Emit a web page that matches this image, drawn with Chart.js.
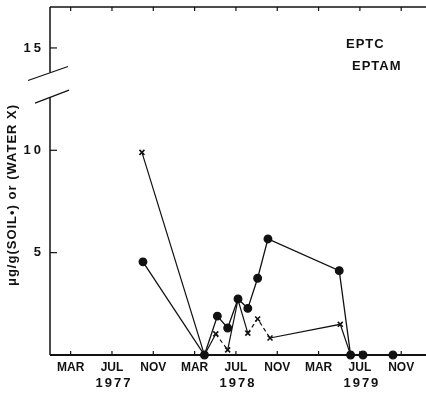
<!DOCTYPE html>
<html>
<head>
<meta charset="utf-8">
<script src="https://cdn.jsdelivr.net/npm/chart.js@4.4.1/dist/chart.umd.min.js"></script>
<style>
  body { margin: 0; background: #fff; }
  #wrap { width: 426px; height: 396px; }
</style>
</head>
<body>
<div id="wrap"><canvas id="residueChart" width="426" height="396"></canvas></div>
<script>
// months counted from Jan 1977 (0 = Jan 1977)
const tickMonths = [2, 6, 10, 14, 18, 22, 26, 30, 34];
const tickNames = ["MAR", "JUL", "NOV", "MAR", "JUL", "NOV", "MAR", "JUL", "NOV"];
const yearMonths = [6, 18, 30];
const yearNames = ["1977", "1978", "1979"];
const yTicks = [5, 10, 15];

// soil residues (filled dots)
const soilMonths = [9.0, 14.95, 16.2, 17.2, 18.2, 19.15, 20.1, 21.1, 28.0, 29.1, 30.3, 33.2];
const soilValues = [4.55, 0, 1.9, 1.32, 2.74, 2.28, 3.75, 5.67, 4.12, 0, 0, 0];

// water residues (x marks)
const waterMonths = [8.9, 14.95, 16.05, 17.2, 18.2, 19.15, 20.1, 21.3, 28.1, 29.1, 30.3, 33.2];
const waterValues = [9.9, 0, 1.03, 0.25, 2.7, 1.07, 1.76, 0.83, 1.5, 0, 0, 0];
const waterDashed = [2, 5, 6];

const FONT = "'Liberation Sans', Arial, sans-serif";

const toPoints = (xs, ys) => xs.map((x, i) => ({ x, y: ys[i] }));

// frame, inward ticks, broken y axis and text labels
const framePlugin = {
  id: "frame",
  afterDatasetsDraw(chart) {
    const { ctx, chartArea: a, scales: { x, y } } = chart;
    ctx.save();
    ctx.strokeStyle = "#111";
    ctx.lineCap = "butt";

    // bottom and top axis lines
    ctx.lineWidth = 2;
    ctx.beginPath();
    ctx.moveTo(a.left, a.bottom); ctx.lineTo(a.right, a.bottom);
    ctx.stroke();
    ctx.lineWidth = 1.5;
    ctx.beginPath();
    ctx.moveTo(a.left, a.top); ctx.lineTo(a.right, a.top);
    ctx.stroke();

    // left axis with a break between 12.6 and 13.8
    const breakLo = y.getPixelForValue(12.6);
    const breakHi = y.getPixelForValue(13.8);
    ctx.beginPath();
    ctx.moveTo(a.left, a.bottom); ctx.lineTo(a.left, breakLo);
    ctx.moveTo(a.left, breakHi); ctx.lineTo(a.left, a.top);
    ctx.stroke();

    // break marks
    ctx.lineWidth = 1.2;
    ctx.beginPath();
    ctx.moveTo(a.left - 22, breakHi + 8); ctx.lineTo(a.left + 18, breakHi - 6);
    ctx.moveTo(a.left - 15, breakLo + 6); ctx.lineTo(a.left + 19, breakLo - 7);
    ctx.stroke();

    // x ticks, bottom pointing up and top pointing down
    ctx.lineWidth = 1.2;
    tickMonths.forEach(m => {
      const px = x.getPixelForValue(m);
      ctx.beginPath();
      ctx.moveTo(px, a.bottom); ctx.lineTo(px, a.bottom - 4);
      ctx.moveTo(px, a.top); ctx.lineTo(px, a.top + 4);
      ctx.stroke();
    });

    // y ticks and labels
    ctx.fillStyle = "#111";
    ctx.font = "bold 13px " + FONT;
    ctx.textAlign = "right";
    ctx.textBaseline = "middle";
    ctx.letterSpacing = "3px";
    yTicks.forEach(v => {
      const py = y.getPixelForValue(v);
      ctx.beginPath();
      ctx.moveTo(a.left, py); ctx.lineTo(a.left + 7, py);
      ctx.stroke();
      ctx.fillText(String(v), a.left - 6, py);
    });

    // year labels under JUL
    ctx.textAlign = "center";
    ctx.textBaseline = "top";
    ctx.letterSpacing = "2px";
    ctx.font = "bold 13px " + FONT;
    yearMonths.forEach((m, i) => {
      ctx.fillText(yearNames[i], x.getPixelForValue(m) + 2, a.bottom + 22);
    });

    // compound names
    ctx.textAlign = "left";
    ctx.letterSpacing = "1px";
    ctx.fillText("EPTC", 346, 38);
    ctx.fillText("EPTAM", 352, 60);

    // y axis title
    ctx.translate(12, 195);
    ctx.rotate(-Math.PI / 2);
    ctx.textAlign = "center";
    ctx.textBaseline = "middle";
    ctx.letterSpacing = "1px";
    ctx.font = "bold 13px " + FONT;
    ctx.fillText("\u03bcg/g(SOIL\u2022) or (WATER X)", 0, 0);
    ctx.restore();
  }
};

new Chart(document.getElementById("residueChart"), {
  type: "scatter",
  data: {
    datasets: [
      {
        label: "soil",
        data: toPoints(soilMonths, soilValues),
        showLine: true,
        borderColor: "#111",
        borderWidth: 1.3,
        pointStyle: "circle",
        pointRadius: 3.8,
        pointBackgroundColor: "#111",
        pointBorderColor: "#111",
        clip: false
      },
      {
        label: "water",
        data: toPoints(waterMonths, waterValues),
        showLine: true,
        borderColor: "#111",
        borderWidth: 1.2,
        pointStyle: "crossRot",
        pointRadius: 3.5,
        pointBorderWidth: 1.6,
        pointBorderColor: "#111",
        clip: false,
        segment: {
          borderDash: c => waterDashed.includes(c.p0DataIndex) ? [4, 3] : undefined
        }
      }
    ]
  },
  options: {
    responsive: false,
    animation: false,
    devicePixelRatio: 1,
    layout: { autoPadding: false, padding: { top: 7, right: 0, left: 0, bottom: 0 } },
    plugins: { legend: { display: false }, tooltip: { enabled: false } },
    scales: {
      x: {
        type: "linear",
        min: 0,
        max: 36.4,
        afterFit: s => { s.height = 41; s.paddingLeft = 0; s.paddingRight = 0; },
        afterBuildTicks: s => { s.ticks = tickMonths.map(v => ({ value: v })); },
        grid: { display: false, drawTicks: false },
        border: { display: false },
        ticks: {
          autoSkip: false,
          maxRotation: 0,
          padding: 5,
          color: "#111",
          font: { family: FONT, size: 12, weight: "bold" },
          callback: v => tickNames[tickMonths.indexOf(v)]
        }
      },
      y: {
        min: 0,
        max: 17,
        afterFit: s => { s.width = 50; s.paddingTop = 0; s.paddingBottom = 0; },
        grid: { display: false, drawTicks: false },
        border: { display: false },
        ticks: { display: false }
      }
    }
  },
  plugins: [framePlugin]
});
</script>
</body>
</html>
